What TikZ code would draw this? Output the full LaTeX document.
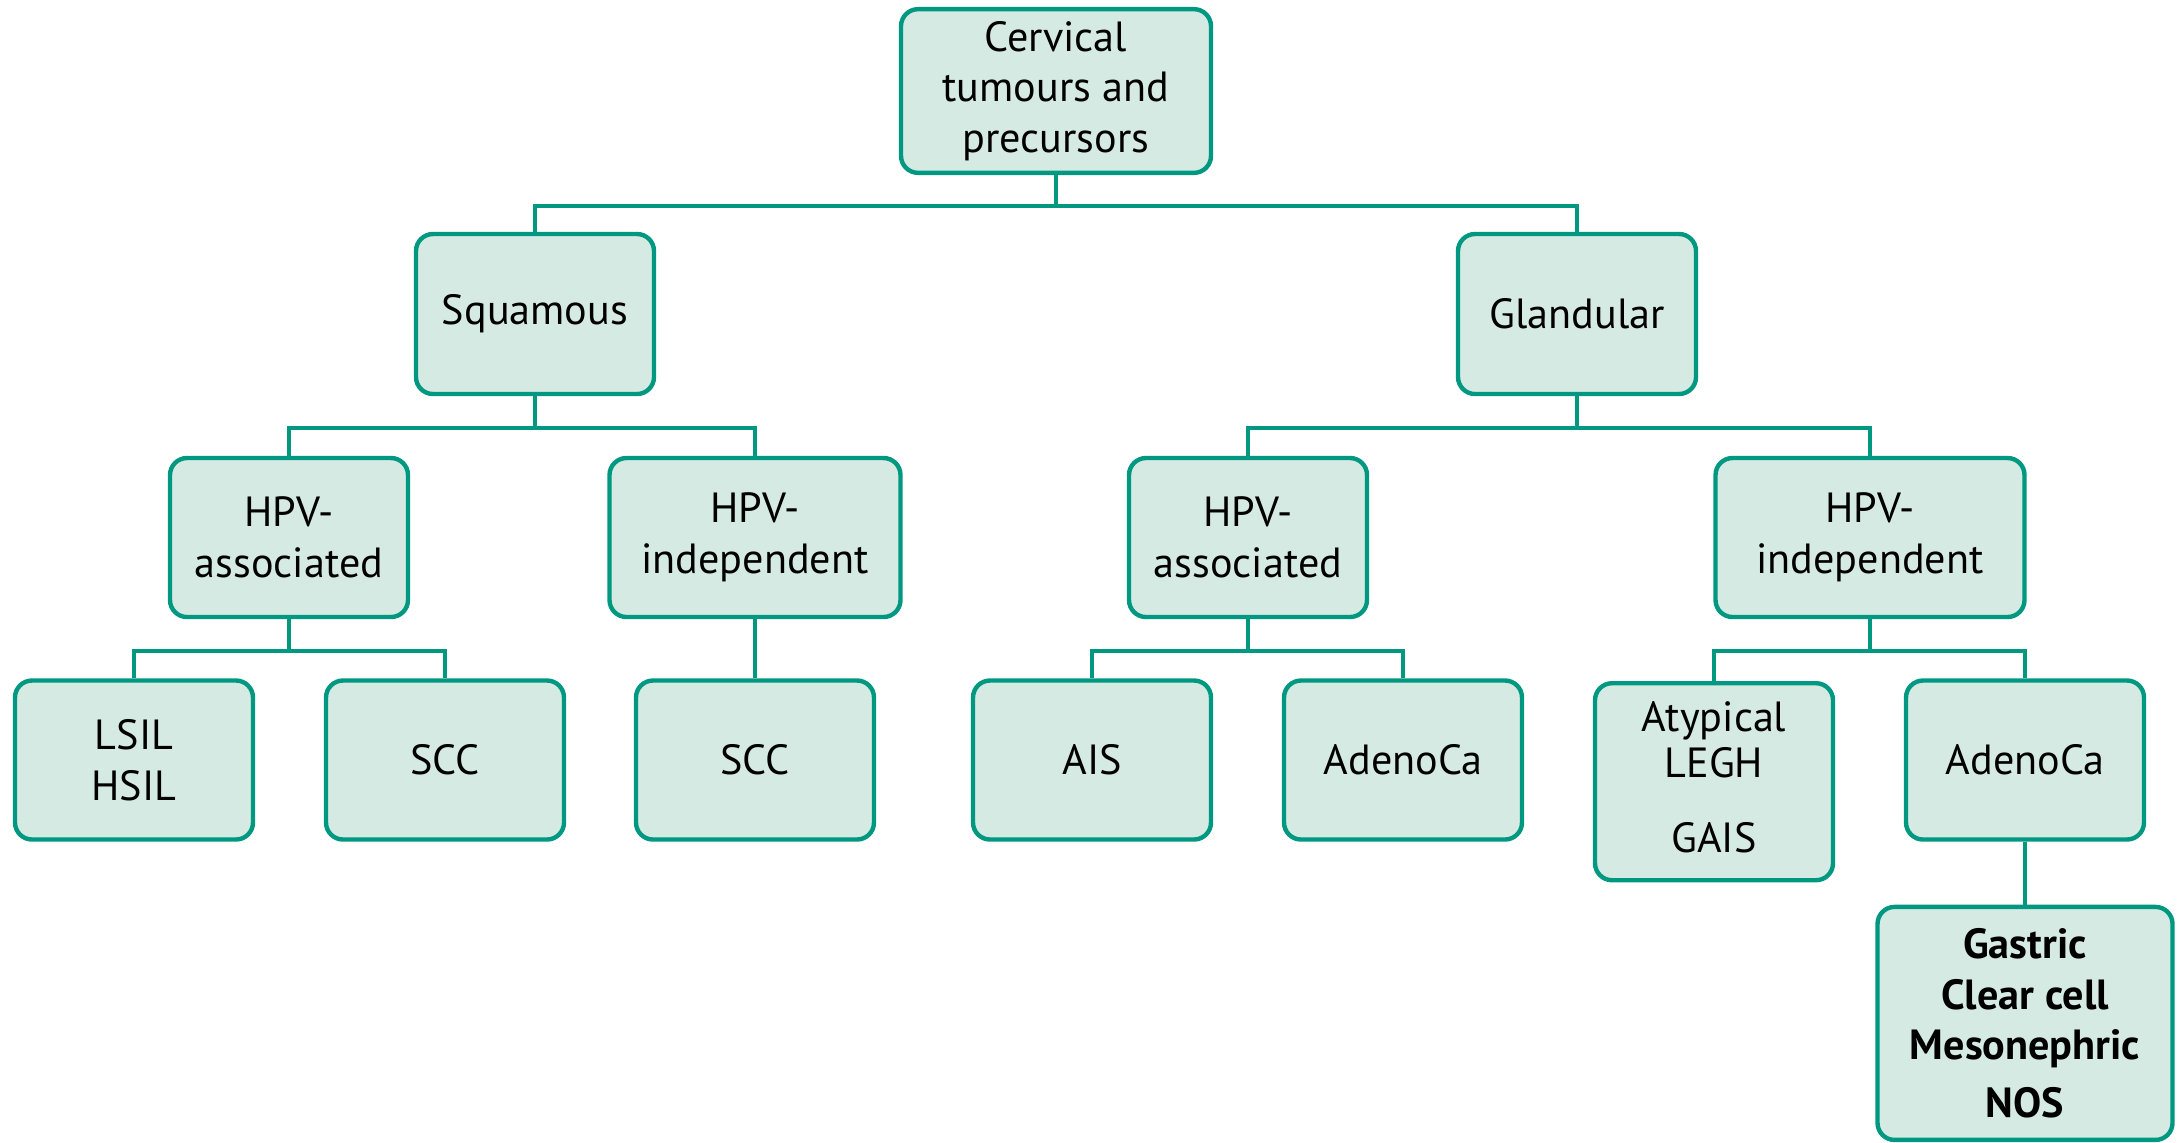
\documentclass[tikz,border=0pt]{standalone}
\usepackage{fontspec}
\setmainfont{PT Sans}
\usepackage{tikz}
\usetikzlibrary{positioning}
\definecolor{tealline}{HTML}{009881}
\definecolor{tealfill}{HTML}{D6EAE4}

\begin{document}
\begin{tikzpicture}[
  box/.style={draw=tealline, fill=tealfill, line width=1.25pt, rounded corners=0.17cm,
    align=center, minimum width=2.38cm, minimum height=1.59cm, inner sep=0.12cm,
    font=\fontsize{12}{14.4}\selectfont},
  link/.style={draw=tealline, line width=1.2pt, line join=miter}]
\useasboundingbox (0,0) rectangle (21.83,-11.42);

%% top and main branches
\node[box, minimum width=3.10cm, minimum height=1.60cm](root) at (10.56,-0.91) {Cervical\\tumours and\\precursors};

\node[box, minimum height=1.60cm](squam) at (5.35,-3.14) {Squamous};
\node[box, minimum height=1.60cm](gland) at (15.77,-3.14) {Glandular};

%% HPV status
\node[box](sqA) at (2.89,-5.375) {HPV-\\associated};
\node[box, minimum width=2.91cm](sqI) at (7.55,-5.375) {HPV-\\independent};
\node[box](glA) at (12.48,-5.375) {HPV-\\associated};
\node[box, minimum width=3.09cm](glI) at (18.70,-5.375) {HPV-\\independent};

%% lesions
\node[box](lsil) at (1.34,-7.60) {LSIL\\HSIL};
\node[box](sccA) at (4.45,-7.60) {SCC};
\node[box](sccI) at (7.55,-7.60) {SCC};
\node[box](ais) at (10.92,-7.60) {AIS};
\node[box](adenoA) at (14.03,-7.60) {AdenoCa};
\node[box, anchor=north, minimum height=0cm, text height=1.55cm, text depth=0.14cm,
  inner ysep=0.14cm](legh) at (17.14,-6.81) {Atypical\\[-1.2pt]LEGH\\[6.8pt]GAIS};
\node[box](adenoI) at (20.25,-7.60) {AdenoCa};

\node[box, below=0.63cm of adenoI, minimum width=2.95cm, minimum height=2.33cm,
  font=\fontsize{12}{14.4}\selectfont\bfseries](subtypes) {Gastric\\Clear cell\\Mesonephric\\[2pt]NOS};

%% connectors
\draw[link] (root.south) -- ++(0,-0.31) -| (squam.north);
\draw[link] (root.south) -- ++(0,-0.31) -| (gland.north);

\draw[link] (squam.south) -- ++(0,-0.32) -| (sqA.north);
\draw[link] (squam.south) -- ++(0,-0.32) -| (sqI.north);
\draw[link] (gland.south) -- ++(0,-0.32) -| (glA.north);
\draw[link] (gland.south) -- ++(0,-0.32) -| (glI.north);

\draw[link] (sqA.south) -- ++(0,-0.32) -| (lsil.north);
\draw[link] (sqA.south) -- ++(0,-0.32) -| (sccA.north);
\draw[link] (sqI.south) -- (sccI.north);
\draw[link] (glA.south) -- ++(0,-0.32) -| (ais.north);
\draw[link] (glA.south) -- ++(0,-0.32) -| (adenoA.north);
\draw[link] (glI.south) -- ++(0,-0.32) -| (legh.north);
\draw[link] (glI.south) -- ++(0,-0.32) -| (adenoI.north);

\draw[link] (adenoI.south) -- (subtypes.north);

\end{tikzpicture}
\end{document}
